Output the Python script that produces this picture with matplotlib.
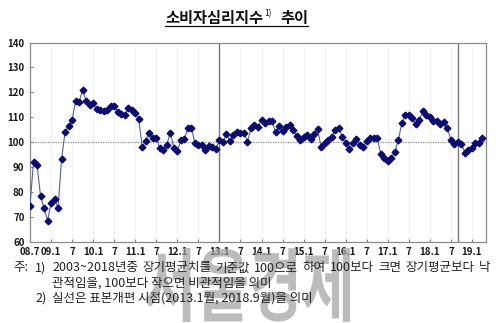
import numpy as np
import matplotlib
matplotlib.use("Agg")
import matplotlib.pyplot as plt
import matplotlib.transforms as mtransforms
from matplotlib.lines import Line2D
from matplotlib.patches import PathPatch
from matplotlib.textpath import TextPath
from matplotlib.font_manager import FontProperties

plt.rcParams["font.family"] = ["Noto Sans CJK KR", "DejaVu Sans"]

# 소비자심리지수 (월별, 2008.7 ~ 2019.4)
ccsi_2008 = [74.5, 92.0, 90.8, 78.5, 73.5, 68.5]
ccsi_2009 = [75.4, 77.1, 73.5, 93.2, 104.1, 106.5, 108.8, 116.5, 116.1, 121.0, 116.5, 115.0]
ccsi_2010 = [115.6, 113.2, 113.1, 112.7, 112.8, 114.4, 114.4, 112.2, 111.4, 110.7, 113.9, 113.0]
ccsi_2011 = [111.5, 109.1, 98.1, 100.4, 103.8, 101.5, 101.8, 97.5, 96.9, 99.0, 103.8, 97.8]
ccsi_2012 = [96.5, 100.7, 101.1, 105.7, 105.7, 99.8, 98.9, 98.9, 97.0, 98.3, 98.2, 97.4]
ccsi_2013 = [100.7, 100.0, 103.2, 100.5, 103.0, 103.9, 103.6, 103.8, 100.1, 105.5, 106.9, 106.2]
ccsi_2014 = [108.9, 107.6, 108.6, 108.4, 104.0, 106.5, 104.5, 106.2, 106.9, 104.9, 102.5, 100.9]
ccsi_2015 = [102.2, 102.9, 101.2, 103.3, 105.2, 97.9, 99.5, 100.9, 102.1, 105.0, 105.5, 102.2]
ccsi_2016 = [99.5, 97.3, 99.5, 101.2, 98.8, 98.2, 100.4, 101.5, 101.6, 101.6, 95.2, 93.5]
ccsi_2017 = [92.4, 93.8, 96.0, 100.8, 107.7, 110.9, 110.9, 109.6, 107.3, 109.0, 112.3, 110.8]
ccsi_2018 = [110.2, 108.5, 108.5, 107.3, 107.9, 105.5, 100.9, 99.3, 100.2, 99.3, 95.8, 97.0]
ccsi_2019 = [97.5, 99.6, 99.8, 101.6]

ccsi = ccsi_2008 + ccsi_2009 + ccsi_2010 + ccsi_2011 + ccsi_2012 + ccsi_2013 \
    + ccsi_2014 + ccsi_2015 + ccsi_2016 + ccsi_2017 + ccsi_2018 + ccsi_2019

# x축 눈금 (6개월 간격, 첫 달 = 2008.7)
tick_labels = ["08.7", "09.1", "7", "10.1", "7", "11.1", "7", "12.1", "7", "13.1", "7",
               "14.1", "7", "15.1", "7", "16.1", "7", "17.1", "7", "18.1", "7", "19.1"]
tick_pos = np.arange(len(tick_labels)) * 6

# 표본개편 시점: 2013.1, 2018.9
revision_idx = [54, 122]

fig = plt.figure(figsize=(5, 3.23), dpi=100)
ax = fig.add_axes([0.06, 0.2517, 0.912, 0.6166])

x = np.arange(len(ccsi))
ax.plot(x, ccsi, color="#56609e", lw=0.8, marker="D", ms=3.4,
        mfc="#0b0b70", mec="#0b0b70", zorder=3)

ax.axhline(100, color="#8a8a8a", lw=0.9, ls=(0, (1, 1)), zorder=2)
for r in revision_idx:
    ax.axvline(r, color="#7a7a7a", lw=1.0, zorder=2)
for p in tick_pos[1:]:
    ax.axvline(p, color="#f0f0f0", lw=0.6, zorder=1)

ax.set_xlim(0, 130)
ax.set_ylim(60, 140)
ax.set_yticks(range(60, 141, 10))
ax.set_xticks(tick_pos)
ax.set_xticklabels(tick_labels)
ax.tick_params(direction="in", length=2.5, width=0.7, color="#777777",
               labelsize=7, pad=4, labelcolor="#1a1a1a")
for lab in ax.get_xticklabels() + ax.get_yticklabels():
    lab.set_fontweight("bold")
for s in ax.spines.values():
    s.set_color("#8a8a8a")
    s.set_linewidth(0.9)

fig.canvas.draw()
renderer = fig.canvas.get_renderer()
W, H = fig.bbox.width, fig.bbox.height

# 제목 (밑줄 + 위첨자)
t1 = fig.text(165 / W, 1 - 18.5 / H, "소비자심리지수", fontsize=11, fontweight="bold",
              va="center", ha="left", color="#111111")
b1 = t1.get_window_extent(renderer)
t2 = fig.text((b1.x1 + 1) / W, 1 - 14 / H, "1)", fontsize=6, va="center",
              ha="left", color="#111111")
b2 = t2.get_window_extent(renderer)
t3 = fig.text((b2.x1 + 9) / W, 1 - 18.5 / H, "추이", fontsize=11, fontweight="bold",
              va="center", ha="left", color="#111111")
b3 = t3.get_window_extent(renderer)
fig.add_artist(Line2D([b1.x0 / W, b3.x1 / W], [1 - 26 / H, 1 - 26 / H],
                      transform=fig.transFigure, color="#111111", lw=0.9))

# 워터마크
wm = TextPath((0, 0), "서울경제", size=1,
              prop=FontProperties(family="Noto Sans CJK KR", weight="bold"))
ext = wm.get_extents()
bx0, bx1 = 145 / W, 350 / W
by0, by1 = 1 - 322 / H, 1 - 248 / H
tr = mtransforms.Affine2D().translate(-ext.x0, -ext.y0) \
    .scale((bx1 - bx0) / ext.width, (by1 - by0) / ext.height) \
    .translate(bx0, by0) + fig.transFigure
fig.add_artist(PathPatch(wm, transform=tr, fc="#a0a0a0", ec="none", alpha=0.7, zorder=1))

# 주석
note_kw = dict(fontsize=9, va="center", ha="left", color="#222222", zorder=3)
fig.text(13 / W, 1 - 268 / H, "주:", **note_kw)
fig.text(35 / W, 1 - 268 / H, "1)", **note_kw)
fig.text(35 / W, 1 - 298 / H, "2)", **note_kw)

# 첫 줄은 양쪽 정렬
words = "2003~2018년중 장기평균치를 기준값 100으로 하여 100보다 크면 장기평균보다 낙".split()
left, right = 52, 490
parts = []
for w_ in words:
    t = fig.text(0, 1 - 268 / H, w_, **note_kw)
    parts.append((t, t.get_window_extent(renderer).width))
gap = (right - left - sum(w for _, w in parts)) / (len(parts) - 1)
cx = left
for t, w in parts:
    t.set_x(cx / W)
    cx += w + gap

fig.text(52 / W, 1 - 283 / H, "관적임을, 100보다 작으면 비관적임을 의미", **note_kw)
fig.text(52 / W, 1 - 298 / H, "실선은 표본개편 시점(2013.1월, 2018.9월)을 의미", **note_kw)

fig.savefig("out.png", dpi=100)
